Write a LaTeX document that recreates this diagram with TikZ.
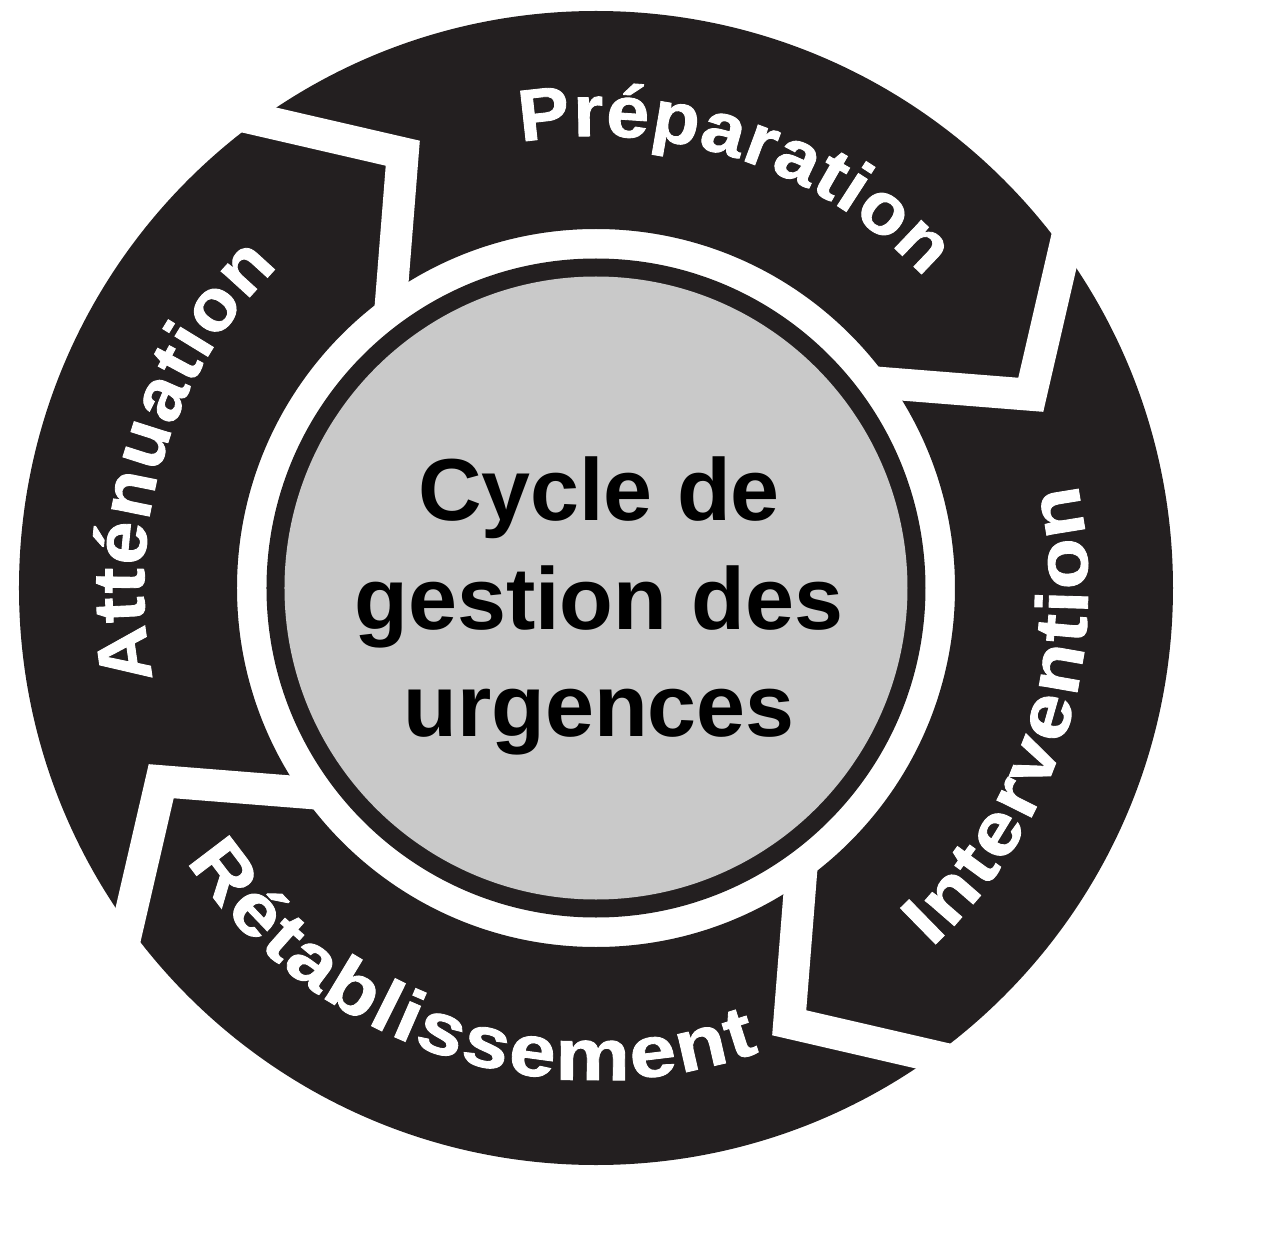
\documentclass[tikz,border=0pt]{standalone}
\usepackage{fontspec}
\setmainfont{Liberation Sans}
\newfontfamily\arcfaceA{Liberation Sans}[FakeStretch=1.06, BoldFeatures={FakeBold=1.2}]
\newfontfamily\arcfaceB{Liberation Sans}[FakeStretch=1.15, BoldFeatures={FakeBold=1.2}]
\usetikzlibrary{calc}
\definecolor{segblack}{RGB}{35,31,32}
\definecolor{discgray}{RGB}{201,201,201}
\def\plFace{\arcfaceA}
\newcommand\arcfont{\plFace\fontsize{73}{73}\selectfont\bfseries}
\newcommand\hubfont{\fontsize{88}{88}\selectfont\bfseries}
% advance width of 1000 font units, in px
\def\plWid{77.38}
% #1 name, #2 start angle, #3 end angle, #4 baseline radius, #5 direction (+1 ccw, -1 cw), #6 char/width list
\newcommand\phaselabel[6]{%
  \gdef\plTot{0}\gdef\plCnt{0}%
  \foreach \plch/\plw [count=\pln] in {#6}{\pgfmathsetmacro\plTmp{\plTot+\plw/1000*\plWid}\xdef\plTot{\plTmp}\xdef\plCnt{\pln}}%
  \pgfmathsetmacro\plLen{abs((#3)-(#2))/180*pi*(#4)}%
  \pgfmathsetmacro\plExtra{(\plLen-\plTot)/(\plCnt-1)}%
  \gdef\plCum{0}%
  \foreach \plch/\plw [count=\pln] in {#6}{%
    \pgfmathsetmacro\plS{\plCum+\plw/2000*\plWid+(\pln-1)*\plExtra}%
    \pgfmathsetmacro\plAng{(#2)+(#5)*\plS/(#4)/pi*180}%
    \pgfmathsetmacro\plRot{\plAng+(#5)*90}%
    \node[letter, rotate=\plRot] (#1-\pln) at (\plAng:#4) {\plch};%
    \pgfmathsetmacro\plTmp{\plCum+\plw/1000*\plWid}\xdef\plCum{\plTmp}%
  }%
}
\begin{document}
\begin{tikzpicture}[x=1pt,y=1pt,
  gapline/.style={draw=white, line width=32pt, line join=miter},
  letter/.style={anchor=base, inner sep=0pt, font=\arcfont, text=white},
  hubline/.style={anchor=base, font=\hubfont, text=black, inner sep=0pt}]
\useasboundingbox (-596,-652) rectangle (674,588);
% black ring of the four phases
\fill[segblack, even odd rule] (0,0) circle[radius=577] (0,0) circle[radius=359];
% white chevron gaps between the phases
\foreach \k in {0,1,2,3}{
  \coordinate (gO\k) at ({125.4-90*\k}:572.7);
  \coordinate (gT\k) at ({113.96-90*\k}:475.8);
  \coordinate (gI\k) at ({125.0-90*\k}:356.6);
  \draw[gapline] ($(gT\k)!1.5!(gO\k)$) -- (gT\k) -- ($(gT\k)!1.8!(gI\k)$);
}
% central disc
\fill[segblack] (0,0) circle[radius=329.5];
\fill[discgray] (0,0) circle[radius=311.5];
% phase labels: outward-facing
\gdef\plFace{\arcfaceA}\gdef\plWid{77.38}
\phaselabel{prep}{99.55}{43.35}{452}{-1}{P/667,r/389,é/556,p/611,a/556,r/389,a/556,t/333,i/278,o/611,n/611}
\phaselabel{att}{191.6}{134.65}{452}{-1}{A/722,t/333,t/333,é/556,n/611,u/611,a/556,t/333,i/278,o/611,n/611}
% phase labels: inward-facing
\gdef\plFace{\arcfaceB}\gdef\plWid{83.95}
\phaselabel{int}{-47}{12.2}{492}{1}{I/278,n/611,t/333,e/556,r/389,v/556,e/556,n/611,t/333,i/278,o/611,n/611}
\phaselabel{ret}{213.7}{289.4}{492}{1}{R/722,é/556,t/333,a/556,b/611,l/278,i/278,s/556,s/556,e/556,m/889,e/556,n/611,t/333}
% centre title
\node[hubline] (hub1) at (3,67.3) {Cycle de};
\node[hubline] (hub2) at (3,-41) {gestion des};
\node[hubline] (hub3) at (3,-148.7) {urgences};
\end{tikzpicture}
\end{document}
